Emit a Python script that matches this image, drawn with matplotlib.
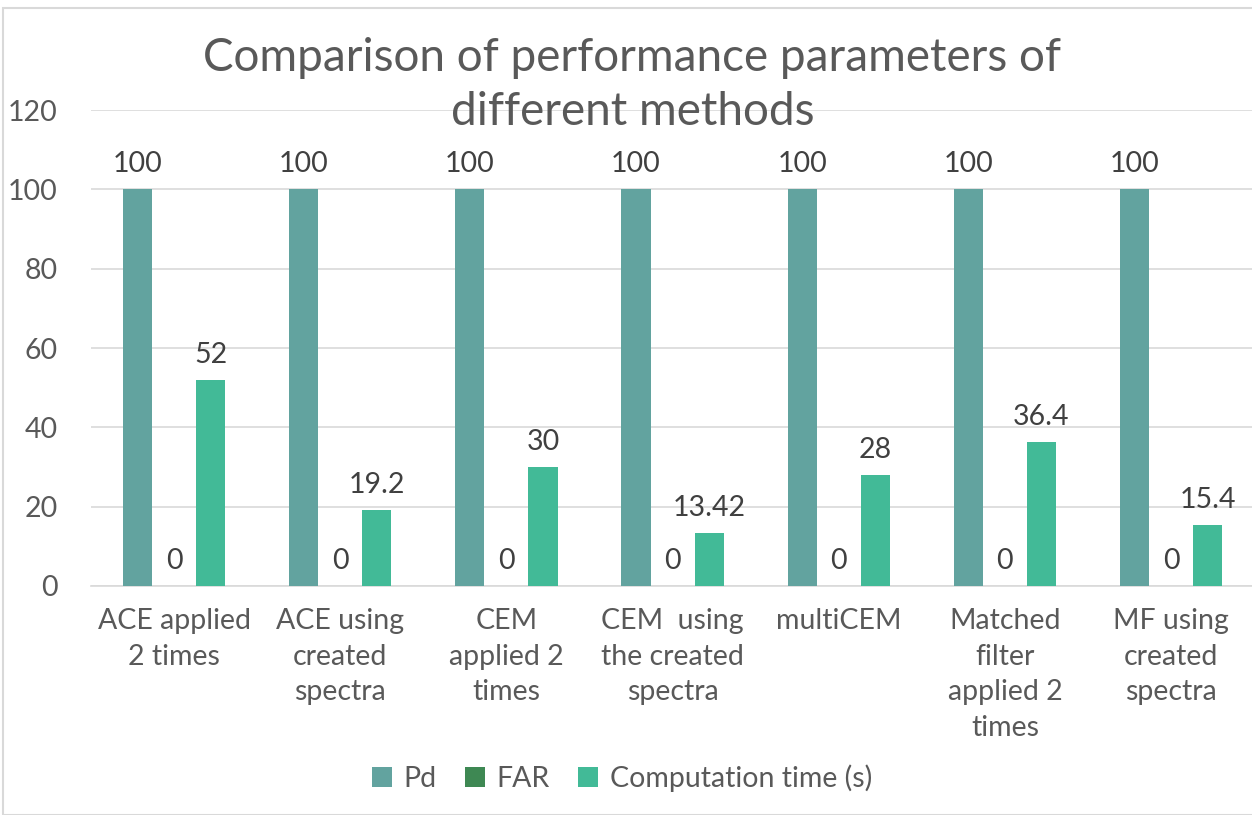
import matplotlib
matplotlib.use("Agg")
import matplotlib.pyplot as plt
import numpy as np
from matplotlib.patches import Rectangle

categories = ["ACE applied\n2 times", "ACE using\ncreated\nspectra", "CEM\napplied 2\ntimes",
              "CEM  using\nthe created\nspectra", "multiCEM", "Matched\nfilter\napplied 2\ntimes",
              "MF using\ncreated\nspectra"]
pd_vals = [100, 100, 100, 100, 100, 100, 100]
far_vals = [0, 0, 0, 0, 0, 0, 0]
comp_vals = [52, 19.2, 30, 13.42, 28, 36.4, 15.4]
comp_labels = ["52", "19.2", "30", "13.42", "28", "36.4", "15.4"]

plt.rcParams['font.family'] = ['Lato', 'DejaVu Sans']
txt = '#595959'

fig = plt.figure(figsize=(12.52, 8.15), dpi=100)
ax = fig.add_axes([0.0727, 0.281, 0.929, 0.584])

x = np.arange(len(categories))
w = 0.175
off = 0.22
b1 = ax.bar(x - off, pd_vals, w, color='#62A39F', label='Pd', zorder=3)
b2 = ax.bar(x, far_vals, w, color='#3E8853', label='FAR', zorder=3)
b3 = ax.bar(x + off, comp_vals, w, color='#42BA97', label='Computation time (s)', zorder=3)

fs = 20.5
for xi, v in zip(x - off, pd_vals):
    ax.text(xi, v + 3, f"{v}", ha='center', va='bottom', fontsize=fs, color='#404040')
for xi, v in zip(x, far_vals):
    ax.text(xi, v + 3, f"{v}", ha='center', va='bottom', fontsize=fs, color='#404040')
for xi, v, l in zip(x + off, comp_vals, comp_labels):
    ax.text(xi, v + 3, l, ha='center', va='bottom', fontsize=fs, color='#404040')

ax.set_xlim(-0.5, len(categories) - 0.5)
ax.set_ylim(0, 120)
ax.set_yticks(np.arange(0, 121, 20))
ax.yaxis.grid(True, color='#D9D9D9', linewidth=1.2, zorder=0)
ax.set_axisbelow(True)
for s in ['top', 'right', 'left']:
    ax.spines[s].set_visible(False)
ax.spines['bottom'].set_color('#D9D9D9')
ax.spines['bottom'].set_linewidth(1.2)
ax.tick_params(axis='both', length=0, labelsize=fs, colors=txt)
ax.tick_params(axis='y', pad=24)
ax.set_xticks(x)
ax.set_xticklabels(categories, fontsize=fs, color=txt, linespacing=1.45, va='top')
ax.tick_params(axis='x', pad=16)

fig.text(0.505, 0.896, "Comparison of performance parameters of\ndifferent methods",
         ha='center', va='center', fontsize=33, color=txt, linespacing=1.35)

leg = fig.legend(handles=[b1, b2, b3], loc='center', bbox_to_anchor=(0.497, 0.045), ncol=3,
                 frameon=False, fontsize=fs, labelcolor=txt, handlelength=0.7, handleheight=0.7,
                 handletextpad=0.4, columnspacing=1.0)

fig.patches.append(Rectangle((0.0025, 0.0), 1.2, 0.99, transform=fig.transFigure,
                             fill=False, edgecolor='#D9D9D9', linewidth=1.5))

fig.savefig('out.png', dpi=100)
